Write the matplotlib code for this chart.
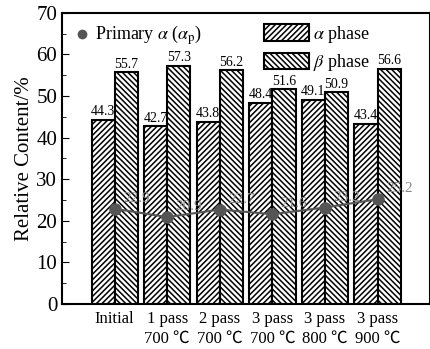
import matplotlib.pyplot as plt
from matplotlib.patches import Patch
from matplotlib.lines import Line2D
import numpy as np

categories = ['Initial', '1 pass\n700 \u2103', '2 pass\n700 \u2103', '3 pass\n700 \u2103',
              '3 pass\n800 \u2103', '3 pass\n900 \u2103']
alpha_phase = [44.3, 42.7, 43.8, 48.4, 49.1, 43.4]
beta_phase = [55.7, 57.3, 56.2, 51.6, 50.9, 56.6]
primary_alpha = [22.9, 20.9, 22.7, 21.6, 23.2, 25.2]

plt.rcParams['font.family'] = ['Liberation Serif', 'Noto Sans CJK SC', 'DejaVu Serif']
plt.rcParams['mathtext.fontset'] = 'stix'
plt.rcParams['hatch.linewidth'] = 1.1

fig = plt.figure(figsize=(4.31, 3.49), dpi=100)
ax = fig.add_axes([0.144, 0.129, 0.854, 0.834])

hatch_a = '//////'
hatch_b = '\\\\\\\\\\\\'
x = np.arange(len(categories))
w = 0.44
ax.bar(x - w / 2, alpha_phase, w, facecolor='white', edgecolor='black', linewidth=1.5, hatch=hatch_a)
ax.bar(x + w / 2, beta_phase, w, facecolor='white', edgecolor='black', linewidth=1.5, hatch=hatch_b)

for i in range(len(x)):
    ax.text(x[i] - w / 2, alpha_phase[i] + 0.4, '%.1f' % alpha_phase[i], ha='center', va='bottom', fontsize=10)
    ax.text(x[i] + w / 2, beta_phase[i] + 0.4, '%.1f' % beta_phase[i], ha='center', va='bottom', fontsize=10)

ax.plot(x, primary_alpha, color='#555555', linewidth=1.5, marker='o', markersize=8, zorder=5)
for i in range(len(x)):
    ax.annotate('%.1f' % primary_alpha[i], (x[i], primary_alpha[i]), xytext=(6, 5),
                textcoords='offset points', color='#888888', fontsize=11)

ax.set_xlim(-1.0, 6.0)
ax.set_ylim(0, 70)
ax.set_yticks(range(0, 71, 10))
ax.set_yticks(range(5, 70, 10), minor=True)
ax.tick_params(axis='y', which='both', direction='in', labelsize=15)
ax.tick_params(axis='y', which='major', length=5)
ax.tick_params(axis='y', which='minor', length=3)
ax.set_xticks(x)
ax.set_xticklabels(categories, fontsize=12, linespacing=1.3)
ax.tick_params(axis='x', length=0, pad=5)
for s in ax.spines.values():
    s.set_linewidth(1.5)
ax.set_ylabel('Relative Content/%', fontsize=15, labelpad=2)

h1 = [Line2D([], [], color='#555555', marker='o', linestyle='none', markersize=6)]
leg1 = ax.legend(h1, [r'Primary $\alpha$ ($\alpha_{\mathrm{p}}$)'], loc='upper left',
                 frameon=False, fontsize=13, handlelength=0.6, handletextpad=0.4,
                 bbox_to_anchor=(0.01, 1.0), borderaxespad=0.2)
ax.add_artist(leg1)
h2 = [Patch(facecolor='white', edgecolor='black', linewidth=1.5, hatch=hatch_a),
      Patch(facecolor='white', edgecolor='black', linewidth=1.5, hatch=hatch_b)]
ax.legend(h2, [r'$\alpha$ phase', r'$\beta$ phase'], loc='upper left', frameon=False,
          fontsize=13, handlelength=2.5, handleheight=1.0, handletextpad=0.2,
          labelspacing=0.4, bbox_to_anchor=(0.52, 1.0), borderaxespad=0.2)

fig.savefig('out.png', dpi=100)
